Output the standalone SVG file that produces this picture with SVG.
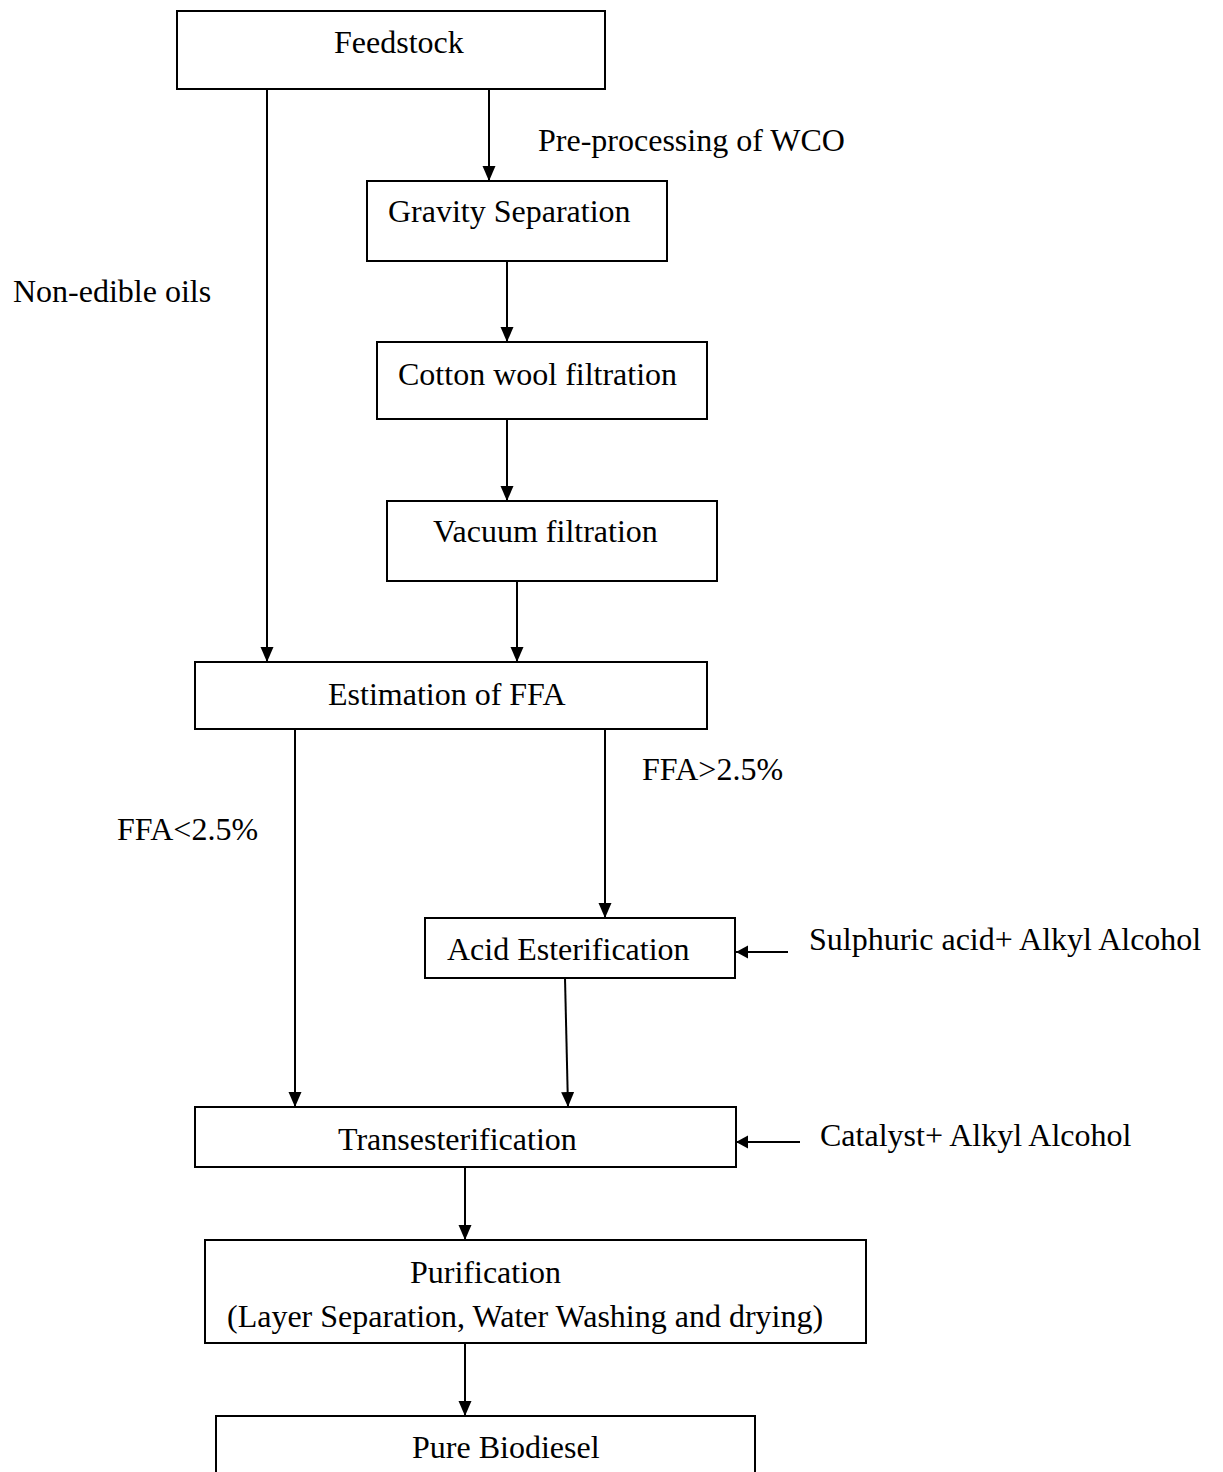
<svg xmlns="http://www.w3.org/2000/svg" width="1223" height="1472" viewBox="0 0 1223 1472">
<style>
.box{fill:#fff;stroke:#000;stroke-width:2}
.t{font-family:"Liberation Serif","Times New Roman",serif;font-size:32px;fill:#000}
.c{stroke:#000;stroke-width:2;fill:none}
</style>
<defs>
<marker id="ah" markerUnits="userSpaceOnUse" markerWidth="16" markerHeight="14" refX="15" refY="6.5" orient="auto"><path d="M0,0 L15,6.5 L0,13 z" fill="#000"/></marker>
<marker id="as" markerUnits="userSpaceOnUse" markerWidth="13" markerHeight="14" refX="12" refY="6.5" orient="auto"><path d="M0,0 L12,6.5 L0,13 z" fill="#000"/></marker>
</defs>
<rect width="1223" height="1472" fill="#fff"/>
<g id="connectors">
<line class="c" x1="267" y1="89" x2="267" y2="662" marker-end="url(#ah)"/>
<line class="c" x1="489" y1="89" x2="489" y2="181" marker-end="url(#ah)"/>
<line class="c" x1="507" y1="261" x2="507" y2="342" marker-end="url(#ah)"/>
<line class="c" x1="507" y1="419" x2="507" y2="501" marker-end="url(#ah)"/>
<line class="c" x1="517" y1="581" x2="517" y2="662" marker-end="url(#ah)"/>
<line class="c" x1="295" y1="729" x2="295" y2="1107" marker-end="url(#ah)"/>
<line class="c" x1="605" y1="729" x2="605" y2="918" marker-end="url(#ah)"/>
<line class="c" x1="565" y1="978" x2="568" y2="1107" marker-end="url(#ah)"/>
<line class="c" x1="788" y1="952" x2="736" y2="952" marker-end="url(#as)"/>
<line class="c" x1="800" y1="1142" x2="736" y2="1142" marker-end="url(#as)"/>
<line class="c" x1="465" y1="1167" x2="465" y2="1240" marker-end="url(#ah)"/>
<line class="c" x1="465" y1="1343" x2="465" y2="1416" marker-end="url(#ah)"/>
</g>
<g id="n-feedstock"><rect class="box" x="177" y="11" width="428" height="78"/><text class="t" x="334" y="53">Feedstock</text></g>
<g id="n-gravity"><rect class="box" x="367" y="181" width="300" height="80"/><text class="t" x="388" y="222">Gravity Separation</text></g>
<g id="n-cotton"><rect class="box" x="377" y="342" width="330" height="77"/><text class="t" x="398" y="385">Cotton wool filtration</text></g>
<g id="n-vacuum"><rect class="box" x="387" y="501" width="330" height="80"/><text class="t" x="433" y="542">Vacuum filtration</text></g>
<g id="n-estimation"><rect class="box" x="195" y="662" width="512" height="67"/><text class="t" x="328" y="705">Estimation of FFA</text></g>
<g id="n-acid"><rect class="box" x="425" y="918" width="310" height="60"/><text class="t" x="447" y="960">Acid Esterification</text></g>
<g id="n-trans"><rect class="box" x="195" y="1107" width="541" height="60"/><text class="t" x="338" y="1150">Transesterification</text></g>
<g id="n-purif"><rect class="box" x="205" y="1240" width="661" height="103"/><text class="t" x="410" y="1283">Purification</text><text class="t" x="227" y="1327">(Layer Separation, Water Washing and drying)</text></g>
<g id="n-biodiesel"><rect class="box" x="216" y="1416" width="539" height="70"/><text class="t" x="412" y="1458">Pure Biodiesel</text></g>
<g id="labels">
<text class="t" x="538" y="151">Pre-processing of WCO</text>
<text class="t" x="13" y="302">Non-edible oils</text>
<text class="t" x="642" y="780">FFA&gt;2.5%</text>
<text class="t" x="117" y="840">FFA&lt;2.5%</text>
<text class="t" x="809" y="950">Sulphuric acid+ Alkyl Alcohol</text>
<text class="t" x="820" y="1146">Catalyst+ Alkyl Alcohol</text>
</g>
</svg>
